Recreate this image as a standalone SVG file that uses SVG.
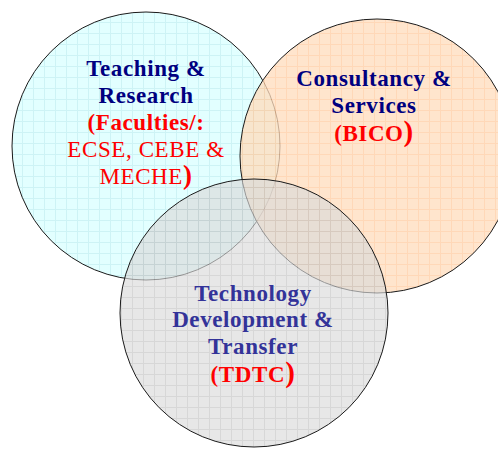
<svg xmlns="http://www.w3.org/2000/svg" width="498" height="451" viewBox="0 0 498 451">
<style>
.t{font-family:"Liberation Serif","Times New Roman",serif;text-anchor:middle;font-size:23px;letter-spacing:0.6px}
.b{font-weight:bold}
.navy{fill:#000080}
.ind{fill:#333399}
.red{fill:#ff0000}
.c{stroke:#1a1a1a;stroke-width:1}
</style>
<defs>
<pattern id="pc" width="11" height="11" patternUnits="userSpaceOnUse">
<rect width="11" height="11" fill="#e2ffff"/>
<path d="M0 0.5H11M0.5 0V11" stroke="#cdf3f5" stroke-width="1"/>
</pattern>
<pattern id="po" width="11" height="11" patternUnits="userSpaceOnUse">
<rect width="11" height="11" fill="#ffdcbc"/>
<path d="M0 0.5H11M0.5 0V11" stroke="#ffcba0" stroke-width="1"/>
</pattern>
<pattern id="pg" width="11" height="11" patternUnits="userSpaceOnUse">
<rect width="11" height="11" fill="#dadada"/>
<path d="M0 0.5H11M0.5 0V11" stroke="#c2c2c2" stroke-width="1"/>
</pattern>
</defs>
<g id="teaching">
<circle class="c" cx="146" cy="146" r="134" fill="url(#pc)"/>
<text class="t b navy" x="146" y="76">Teaching &amp;</text>
<text class="t b navy" x="146" y="103">Research</text>
<text class="t b red" x="146" y="130">(Faculties/:</text>
<text class="t red" x="146" y="157">ECSE, CEBE &amp;</text>
<text class="t red" x="146" y="184">MECHE<tspan class="b" font-size="27">)</tspan></text>
</g>
<g id="consultancy">
<circle class="c" cx="377" cy="156" r="137" fill="url(#po)" fill-opacity="0.75"/>
<text class="t b navy" x="374" y="86">Consultancy &amp;</text>
<text class="t b navy" x="374" y="113">Services</text>
<text class="t b red" x="374" y="141">(BICO<tspan font-size="29">)</tspan></text>
</g>
<g id="technology">
<circle class="c" cx="254" cy="313" r="134" fill="url(#pg)" fill-opacity="0.65"/>
<text class="t b ind" x="253" y="301">Technology</text>
<text class="t b ind" x="253" y="327">Development &amp;</text>
<text class="t b ind" x="253" y="354">Transfer</text>
<text class="t b red" x="253" y="382">(TDTC<tspan font-size="29">)</tspan></text>
</g>
<g id="connectors"/>
</svg>
